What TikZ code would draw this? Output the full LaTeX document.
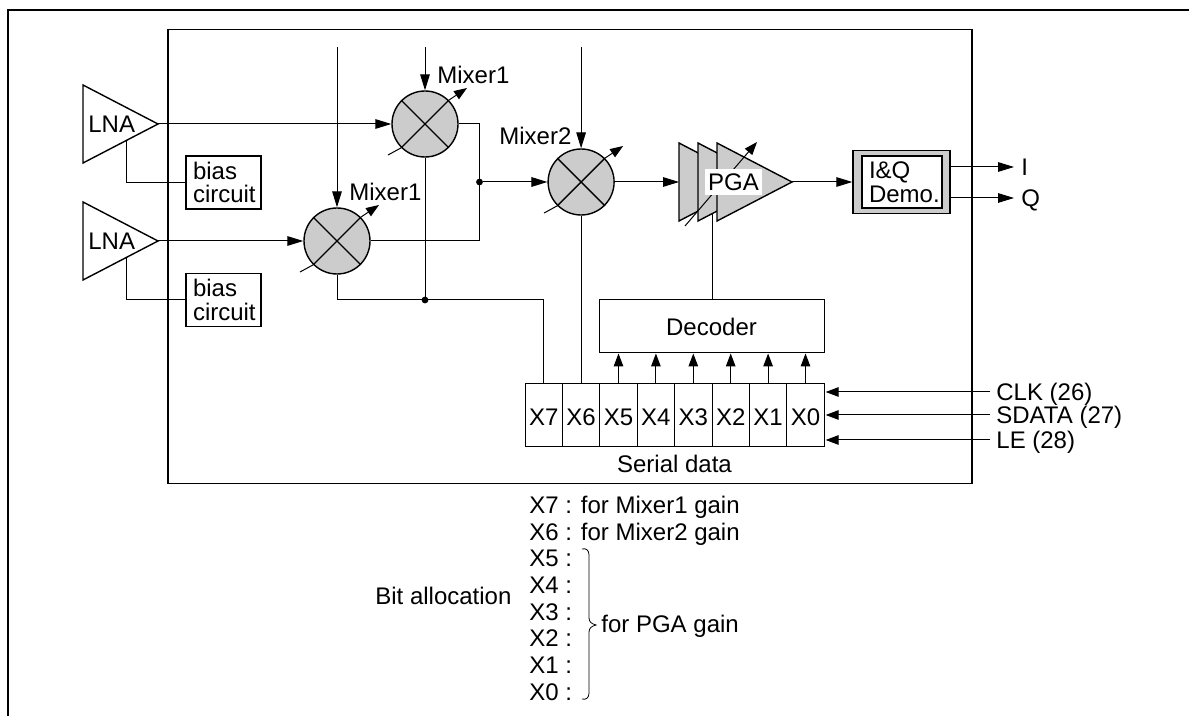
\documentclass[tikz,border=0pt]{standalone}
\usepackage{fontspec}
\setmainfont{Liberation Sans}
\usetikzlibrary{arrows.meta,calc}
\definecolor{fillgray}{HTML}{CCCCCC}
\tikzset{
  thinl/.style={line width=0.5pt},
  thickl/.style={line width=0.7pt},
  arr/.style={thinl,-{Triangle[length=8pt,width=4.8pt]}},
  sarr/.style={thinl,-{Triangle[length=6.5pt,width=4.8pt]}},
  lbl/.style={inner sep=0pt,anchor=west,text height=8.6pt,text depth=0pt,font=\fontsize{12}{14}\selectfont},
  twoline/.style={inner sep=0pt,inner xsep=3.5pt,align=left,font=\fontsize{12}{11.8}\selectfont},
  mixersym/.style={circle,draw,thickl,fill=fillgray,minimum size=33pt,inner sep=0pt},
  tri/.style={draw,thickl,line join=miter},
  regcell/.style={draw,thinl,minimum width=18.7pt,minimum height=31.5pt,inner sep=0pt,text height=9.6pt,text depth=0pt,font=\fontsize{12}{14}\selectfont},
  dot/.style={circle,fill=black,minimum size=3.4pt,inner sep=0pt},
}
\newcommand\mixersymbol[3]{%
  \node[mixersym] (#1) at (#2,#3) {};
  \draw[thickl] (#1.north west) -- (#1.south east);
  \draw[thickl] (#1.south west) -- (#1.north east);
  \draw[thinl] ($(#1)+(-37,31)$) -- (#1.south west);
  \draw[sarr] (#1.north east) -- ($(#1)+(42,-36)$);
}
\begin{document}
\begin{tikzpicture}[x=0.5pt,y=-0.5pt]
\useasboundingbox (0,0) rectangle (1189,716);
% frames
\coordinate (fa) at (8,716); \coordinate (fb) at (8,10); \coordinate (fc) at (1189,10);
\draw[line width=0.6pt] (fa) -- (fb) -- (fc);
\node[draw,thickl,minimum width=402pt,minimum height=227pt,inner sep=0pt] (chip) at (570,256.5) {};

% LNAs
\coordinate (lna1a) at (83,85); \coordinate (lna1b) at (83,163); \coordinate (lna1t) at (158,124);
\coordinate (lna2a) at (83,202); \coordinate (lna2b) at (83,280); \coordinate (lna2t) at (158,241);
\draw[tri] (lna1a) -- (lna1t) -- (lna1b) -- cycle;
\draw[tri] (lna2a) -- (lna2t) -- (lna2b) -- cycle;
\node[lbl] (lna1) at (88,124) {LNA};
\node[lbl] (lna2) at (88,241) {LNA};

% bias
\node[draw,thickl,twoline,text width=30.5pt,minimum height=26.5pt] (bias1) at (223.5,182.5) {bias\\circuit};
\node[draw,thickl,twoline,text width=30.5pt,minimum height=26.5pt] (bias2) at (223.5,300) {bias\\circuit};
\coordinate (lna1s) at (126,141); \coordinate (lna2s) at (126,258);
\draw[thinl] (lna1s) |- (bias1.west);
\draw[thinl] (lna2s) |- (bias2.west);

% mixers
\mixersymbol{mixU}{425}{124}
\mixersymbol{mixL}{337}{241}
\mixersymbol{mixT}{581.1}{182}
\node[lbl] (mixUl) at (437,75) {Mixer1};
\node[lbl] (mixLl) at (349,192) {Mixer1};
\node[lbl] (mixTl) at (499,136) {Mixer2};

% register
\foreach \n/\xx in {7/543.7,6/581.1,5/618.5,4/655.9,3/693.3,2/730.7,1/768.1,0/805.5}
  \node[regcell] (x\n) at (\xx,415.5) {X\n};
\node[lbl,anchor=center] (serial) at (674.5,464) {Serial data};
\node[draw,thinl,minimum width=112.5pt,minimum height=26.5pt,inner sep=0pt,font=\fontsize{12}{14}\selectfont,text height=8.6pt,text depth=0pt] (dec) at (711.5,326.5) {Decoder};
\foreach \n in {5,4,3,2,1,0}
  \draw[sarr] (x\n.north) -- (x\n.north |- dec.south);

% mixer wiring
\coordinate (topL) at (337,47); \coordinate (topU) at (425,47); \coordinate (topT) at (581.1,47);
\draw[arr] (topL) -- (mixL.north);
\draw[arr] (topU) -- (mixU.north);
\draw[arr] (topT) -- (mixT.north);
\draw[arr] (lna1t) -- (mixU.west);
\draw[arr] (lna2t) -- (mixL.west);
\node[dot] (dotA) at (479.5,182) {};
\node[dot] (dotB) at (425,300) {};
\draw[thinl] (mixU.east) -| (dotA.center);
\draw[thinl] (mixL.east) -| (dotA.center);
\draw[arr] (dotA) -- (mixT.west);
\draw[thinl] (mixU.south) -- (dotB.center);
\draw[thinl] (mixL.south) |- (dotB.center);
\draw[thinl] (dotB.center) -| (x7.north);
\draw[thinl] (mixT.south) -- (x6.north);

% PGA
\coordinate (p1a) at (679,143); \coordinate (p1b) at (679,221); \coordinate (p1t) at (754,182);
\coordinate (p2a) at (698,143); \coordinate (p2b) at (698,221); \coordinate (p2t) at (773,182);
\coordinate (p3a) at (717,143); \coordinate (p3b) at (717,221); \coordinate (p3t) at (792,182);
\draw[tri,fill=fillgray] (p1a) -- (p1t) -- (p1b) -- cycle;
\draw[tri,fill=fillgray] (p2a) -- (p2t) -- (p2b) -- cycle;
\draw[tri,fill=fillgray] (p3a) -- (p3t) -- (p3b) -- cycle;
\coordinate (pgaTail) at (685,226); \coordinate (pgaTip) at (757,142);
\draw[sarr] (pgaTail) -- (pgaTip);
\node[lbl,anchor=center,fill=white,minimum width=28.5pt,minimum height=13pt] (pga) at (733.5,182) {PGA};
\draw[arr] (mixT.east) -- (p1a |- mixT.east);
\coordinate (pgaCtl) at (712,214);
\draw[thinl] (pgaCtl) -- (pgaCtl |- dec.north);

% I&Q
\node[draw,thickl,fill=fillgray,minimum width=48.5pt,minimum height=31.5pt,inner sep=0pt] (iqo) at (901.5,182) {};
\node[draw,thickl,fill=white,twoline,text width=33pt,minimum height=26pt] (iq) at (902,182) {I\&Q\\Demo.};
\draw[arr] (p3t) -- (iqo.west);
\node[lbl] (iout) at (1021,167) {I};
\node[lbl] (qout) at (1021,198) {Q};
\coordinate (iend) at (1014,167); \coordinate (qend) at (1014,198);
\draw[arr] (iqo.east |- iend) -- (iend);
\draw[arr] (iqo.east |- qend) -- (qend);

% external
\node[lbl] (clk) at (996,392) {CLK (26)};
\node[lbl] (sdata) at (996,415) {SDATA (27)};
\node[lbl] (le) at (996,440) {LE (28)};
\draw[sarr] ([xshift=-3pt]clk.west) -- ([xshift=0.5pt]x0.east |- clk.west);
\draw[sarr] ([xshift=-3pt]sdata.west) -- ([xshift=0.5pt]x0.east |- sdata.west);
\draw[sarr] ([xshift=-3pt]le.west) -- ([xshift=0.5pt]x0.east |- le.west);

% bit allocation
\node[lbl] (b7) at (529,505) {X7 : for Mixer1 gain};
\node[lbl] (b6) at (529,532) {X6 : for Mixer2 gain};
\node[lbl] (b5) at (529,558) {X5 :};
\node[lbl] (b4) at (529,585) {X4 :};
\node[lbl] (b3) at (529,612) {X3 :};
\node[lbl] (b2) at (529,638) {X2 :};
\node[lbl] (b1) at (529,665) {X1 :};
\node[lbl] (b0) at (529,692) {X0 :};
\node[lbl] (bit) at (375,596) {Bit allocation};
\node[lbl] (forpga) at (601,624) {for PGA gain};
\draw[line width=0.4pt] (582,549) .. controls (586,548) and (589,550) .. (589,555)
  -- (589,618) .. controls (589,622) and (592,624) .. (596,625)
  .. controls (592,626) and (589,628) .. (589,632)
  -- (589,693) .. controls (589,698) and (586,700) .. (582,699);
\end{tikzpicture}
\end{document}
